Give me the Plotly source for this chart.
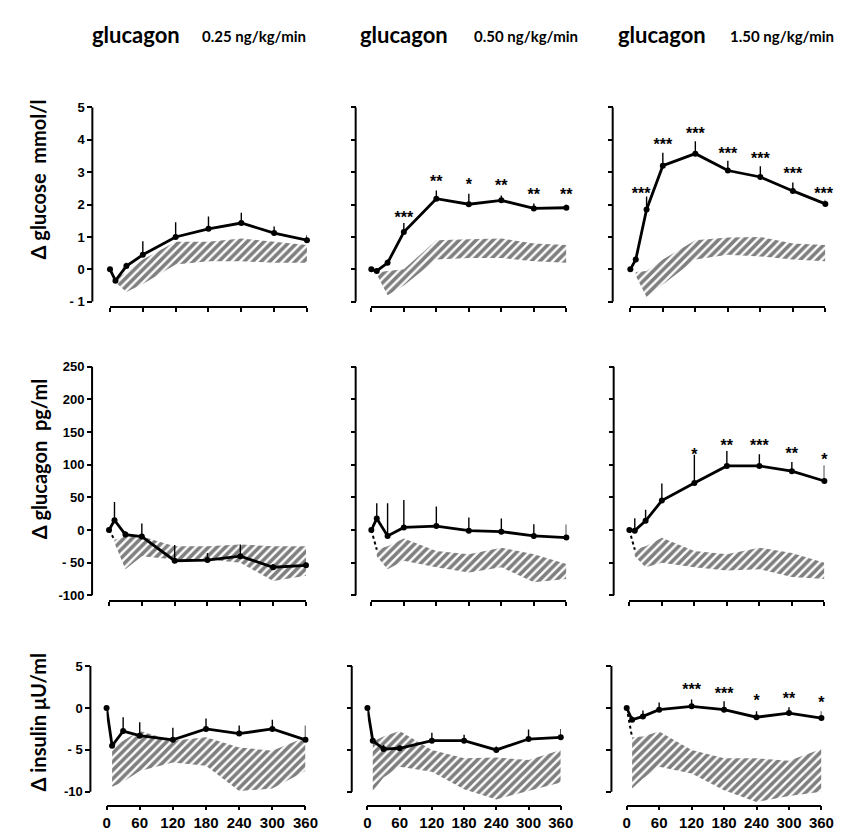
import plotly.graph_objects as go

W, H = 847, 835

# ---------------- data ----------------
T = [0, 10, 30, 60, 120, 180, 240, 300, 360]          # sampling times (min)
TB = [10, 30, 60, 120, 180, 240, 300, 360]            # control band times
X_TICKS = [0, 60, 120, 180, 240, 300, 360]

col_titles = ["0.25 ng/kg/min", "0.50 ng/kg/min", "1.50 ng/kg/min"]
row_titles = ["\u0394 glucose  mmol/l", "\u0394 glucagon  pg/ml", "\u0394 insulin \u03bcU/ml"]

# Δ glucose (mmol/l)
glu_mean = [
    [0, -0.35, 0.1, 0.45, 1.0, 1.25, 1.43, 1.12, 0.9],
    [0, -0.05, 0.2, 1.15, 2.18, 2.01, 2.13, 1.88, 1.9],
    [0, 0.3, 1.85, 3.2, 3.57, 3.05, 2.85, 2.42, 2.02],
]
glu_err = [
    [0, 0, 0.1, 0.42, 0.45, 0.38, 0.32, 0.2, 0.15],
    [0, 0, 0.1, 0.28, 0.25, 0.32, 0.15, 0.15, 0.1],
    [0, 0.05, 0.4, 0.4, 0.38, 0.3, 0.33, 0.26, 0.13],
]
glu_band_hi = [
    [-0.3, -0.1, 0.3, 0.85, 0.85, 0.95, 0.85, 0.75],
    [-0.1, -0.05, 0.0, 0.9, 0.93, 0.95, 0.8, 0.75],
    [-0.08, -0.05, 0.3, 0.9, 0.98, 1.0, 0.8, 0.75],
]
glu_band_lo = [
    [-0.4, -0.7, -0.45, 0.15, 0.25, 0.25, 0.2, 0.2],
    [-0.15, -0.8, -0.5, 0.3, 0.35, 0.35, 0.25, 0.2],
    [-0.2, -0.85, -0.45, 0.3, 0.45, 0.4, 0.3, 0.25],
]
glu_star_t = [[], [60, 120, 180, 240, 300, 360], [20, 60, 120, 180, 240, 300, 357]]
glu_star_y = [[], [1.55, 2.66, 2.58, 2.55, 2.26, 2.26], [2.28, 3.82, 4.15, 3.53, 3.37, 2.9, 2.28]]
glu_star_txt = [[], ["***", "**", "*", "**", "**", "**"], ["***"] * 7]

# Δ glucagon (pg/ml)
gcg_mean = [
    [0, 15, -7, -10, -47, -46, -40, -57, -54],
    [0, 17.5, -9, 4, 6, -1, -2.5, -9, -11.5],
    [0, -1, 14, 45, 72, 98, 98, 90, 75],
]
gcg_err = [
    [0, 28, 5, 20, 24, 11, 18, 5, 5],
    [0, 23.5, 50, 42, 30, 20, 20, 18, 20],
    [0, 19, 17, 26, 43, 23, 18, 14, 24],
]
gcg_band_hi = [
    [-15, -10, -10, -25, -25, -22, -25, -25],
    [-30, -25, -13, -32, -37, -27, -37, -52],
    [-30, -25, -12, -32, -37, -27, -35, -50],
]
gcg_band_lo = [
    [-20, -60, -40, -45, -45, -50, -78, -70],
    [-40, -60, -47, -57, -65, -57, -80, -75],
    [-40, -57, -50, -57, -62, -60, -72, -75],
]
gcg_star_t = [[], [], [120, 180, 240, 300, 360]]
gcg_star_y = [[], [], [113, 127, 127, 114, 105]]
gcg_star_txt = [[], [], ["*", "**", "***", "**", "*"]]

# Δ insulin (μU/ml)
ins_mean = [
    [0, -4.5, -2.75, -3.3, -3.8, -2.5, -3.05, -2.5, -3.8],
    [0, -3.9, -4.9, -4.8, -3.9, -3.9, -5.0, -3.7, -3.5],
    [0, -1.4, -1.0, -0.2, 0.2, -0.2, -1.1, -0.6, -1.2],
]
ins_err = [
    [0, 0, 1.65, 1.6, 1.45, 1.25, 0.95, 1.1, 1.7],
    [0, 0, 0.5, 0.3, 0.95, 0.7, 0.4, 1.15, 1.0],
    [0, 0.4, 0.7, 0.85, 0.8, 1.0, 0.7, 0.7, 0.8],
]
ins_band_hi = [
    [-4.5, -3.9, -2.75, -3.9, -3.5, -4.7, -5.1, -3.5],
    [-4.0, -3.4, -2.75, -5.0, -6.0, -5.9, -6.2, -5.0],
    [-3.5, -3.4, -2.8, -5.0, -6.0, -6.0, -6.3, -4.9],
]
ins_band_lo = [
    [-9.4, -8.8, -7.5, -6.5, -6.9, -9.9, -9.6, -7.5],
    [-9.9, -8.3, -7.0, -7.6, -9.7, -10.9, -9.9, -8.9],
    [-9.6, -8.4, -7.0, -7.8, -9.8, -11.2, -10.5, -10.0],
]
ins_star_t = [[], [], [120, 180, 240, 300, 360]]
ins_star_y = [[], [], [2.0, 1.6, 0.67, 0.9, 0.48]]
ins_star_txt = [[], [], ["***", "***", "*", "**", "*"]]

# y tick labels per row
Y_TICKS = [
    ([-1, 0, 1, 2, 3, 4, 5], ["- 1", "0", "1", "2", "3", "4", "5"]),
    ([-100, -50, 0, 50, 100, 150, 200, 250], ["-100", "- 50", "0", "50", "100", "150", "200", "250"]),
    ([-10, -5, 0, 5], ["-10", "- 5", "0", "5"]),
]

rows = [
    (glu_mean, glu_err, glu_band_hi, glu_band_lo, glu_star_t, glu_star_y, glu_star_txt),
    (gcg_mean, gcg_err, gcg_band_hi, gcg_band_lo, gcg_star_t, gcg_star_y, gcg_star_txt),
    (ins_mean, ins_err, ins_band_hi, ins_band_lo, ins_star_t, ins_star_y, ins_star_txt),
]
dotted = [[False, False, False], [True, True, True], [False, False, True]]

# ---------------- layout geometry (pixels) ----------------
# (top px, bottom px, range min, range max, x-axis line px)
ROW_GEOM = [
    (94, 292, -1, 5, 297),
    (358, 591, -100, 250, 597),
    (663, 803, -11.4, 5, 805),
]
# per row: (y-axis line px, x px of t=0, x px of t=360)
COL_GEOM = [
    [(82, 100, 301), (350.7, 366.7, 565.7), (613, 631, 830)],
    [(81.7, 99, 300), (350.7, 366.7, 565.7), (614, 630, 829)],
    [(80, 96.5, 299.5), (346.7, 362.7, 560), (611.7, 627.3, 826)],
]

FONT = "Lato"
fig = go.Figure()
layout = {}
shapes = []
annotations = []

for r in range(3):
    mean, err, bhi, blo, st, sy, stxt = rows[r]
    top, bot, ymin, ymax, xline = ROW_GEOM[r]
    tv, tt = Y_TICKS[r]
    for c in range(3):
        k = r * 3 + c + 1
        xa, ya = f"x{k}", f"y{k}"
        axl, x0, x1 = COL_GEOM[r][c]
        # hatched control band
        fig.add_trace(go.Scatter(
            x=TB + TB[::-1], y=bhi[c] + blo[c][::-1], xaxis=xa, yaxis=ya,
            fill="toself", mode="lines", line=dict(width=0, color="rgba(0,0,0,0)"),
            fillcolor="rgba(0,0,0,0)",
            fillpattern=dict(shape="/", size=6, solidity=0.6, fgcolor="black",
                             bgcolor="rgba(0,0,0,0)", fillmode="overlay"),
            hoverinfo="skip"))
        if dotted[r][c]:
            fig.add_trace(go.Scatter(
                x=[T[0], TB[0]], y=[mean[c][0], bhi[c][0]], xaxis=xa, yaxis=ya,
                mode="lines", line=dict(color="black", width=2, dash="dot"),
                hoverinfo="skip"))
        # main series
        fig.add_trace(go.Scatter(
            x=T, y=mean[c], xaxis=xa, yaxis=ya, mode="lines+markers",
            line=dict(color="black", width=2.8),
            marker=dict(color="black", size=6),
            error_y=dict(type="data", symmetric=False, array=err[c],
                         arrayminus=[0] * len(T), width=0, thickness=1.4, color="black"),
            cliponaxis=False))
        if st[c]:
            fig.add_trace(go.Scatter(
                x=st[c], y=sy[c], xaxis=xa, yaxis=ya, mode="text", text=stxt[c],
                textposition="middle center",
                textfont=dict(family="Liberation Sans", size=16, color="black", weight="bold"),
                cliponaxis=False))
        # axes
        layout[f"xaxis{k}"] = dict(
            domain=[x0 / W, x1 / W], range=[0, 360], anchor="free",
            position=1 - xline / H, showline=True, linecolor="black", linewidth=1.8,
            ticks="outside", ticklen=4, tickwidth=1.8, tickcolor="black",
            tickvals=X_TICKS, showticklabels=(r == 2), showgrid=False, zeroline=False,
            tickfont=dict(family="Liberation Sans", size=15, color="black", weight="bold"),
        )
        layout[f"yaxis{k}"] = dict(
            domain=[1 - bot / H, 1 - top / H], range=[ymin, ymax], anchor="free",
            position=axl / W, showline=False, ticks="outside", ticklen=5,
            tickwidth=1.8, tickcolor="black", tickvals=tv, ticktext=tt,
            showticklabels=(c == 0), showgrid=False, zeroline=False,
            tickfont=dict(family="Liberation Sans", size=13, color="black", weight="bold"),
        )
        shapes.append(dict(type="line", xref="paper", yref=ya, x0=axl / W, x1=axl / W,
                           y0=tv[0], y1=tv[-1], line=dict(color="black", width=2)))

# column titles
title_x = [(127, 247), (400, 525), (663, 786)]
for c in range(3):
    gx, sx = title_x[c]
    annotations.append(dict(text="glucagon", x=gx / W, y=1 - 20 / H, xref="paper", yref="paper",
                            showarrow=False, xanchor="center", yanchor="middle",
                            font=dict(family=FONT, size=22, color="black", weight="bold")))
    annotations.append(dict(text=col_titles[c], x=sx / W, y=1 - 21 / H, xref="paper", yref="paper",
                            showarrow=False, xanchor="center", yanchor="middle",
                            font=dict(family=FONT, size=15, color="black", weight="bold")))

# row (y axis) titles
title_y = [167, 452, 720]
for r in range(3):
    annotations.append(dict(text=row_titles[r], x=27 / W, y=1 - title_y[r] / H,
                            xref="paper", yref="paper", showarrow=False, textangle=-90,
                            xanchor="center", yanchor="middle",
                            font=dict(family=FONT, size=20, color="black", weight="bold")))

fig.update_layout(
    width=W, height=H, margin=dict(l=0, r=0, t=0, b=0),
    paper_bgcolor="white", plot_bgcolor="rgba(0,0,0,0)",
    showlegend=False, shapes=shapes, annotations=annotations, **layout,
)

fig.write_html("out.html")
